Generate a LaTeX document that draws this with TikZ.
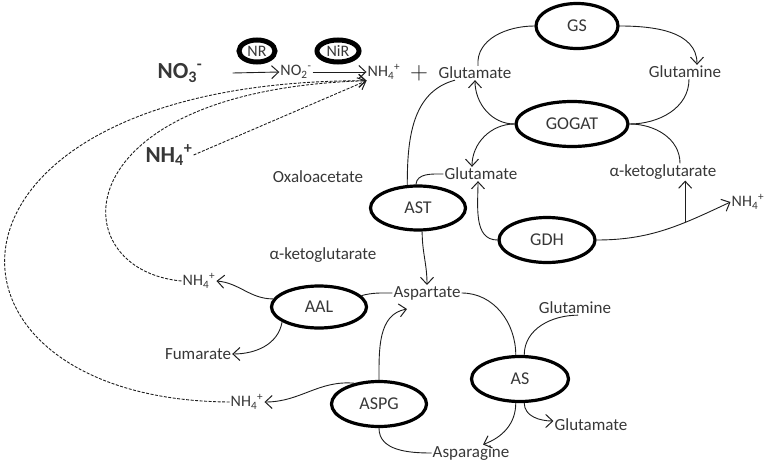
\documentclass[tikz,border=0pt]{standalone}
\usepackage{fontspec}
\setmainfont{Carlito}
\usepackage{tikz}
\usetikzlibrary{arrows.meta, shapes.geometric}
\definecolor{inkgray}{RGB}{55,55,55}
\definecolor{linegray}{RGB}{30,30,30}

\tikzset{
  enzyme/.style={ellipse, draw=black, line width=3.2pt, inner sep=0pt, text=inkgray, font=\fontsize{18}{20}\selectfont},
  smallenzyme/.style={enzyme, line width=5pt, font=\fontsize{16}{18}\selectfont},
  metab/.style={inner sep=1pt, text=inkgray, font=\fontsize{17}{20}\selectfont},
  ion/.style={metab, font=\fontsize{16}{18}\selectfont},
  bigion/.style={metab, font=\fontsize{23}{26}\selectfont\bfseries},
  link/.style={line width=0.9pt, draw=linegray},
  flow/.style={link, -{Straight Barb[length=7pt,width=13pt,line width=1pt]}},
  feed/.style={flow, dash pattern=on 3pt off 1.5pt}
}

\begin{document}
\begin{tikzpicture}[x=1pt, y=-1pt]
        \useasboundingbox (0,0) rectangle (767,465);

        % nitrate uptake
        \node[bigion] (no3) at (180,73) {NO\textsubscript{3}\textsuperscript{-}};
        \node[smallenzyme, minimum width=36pt, minimum height=22pt] (nr) at (257,51) {NR};
        \node[smallenzyme, minimum width=42pt, minimum height=22pt] (nir) at (338,51) {NiR};
        \node[ion] (no2) at (296,72) {NO\textsubscript{2}\textsuperscript{-}};
        \node[ion] (nh4top) at (384,72) {NH\textsubscript{4}\textsuperscript{+}};
        \node[text=linegray, font=\fontsize{30}{30}\selectfont] (plus) at (419,73) {$+$};
        \node[bigion] (nh4bold) at (169,155) {NH\textsubscript{4}\textsuperscript{+}};

        % GS / GOGAT
        \node[metab] (gluTop) at (475,73) {Glutamate};
        \node[enzyme, minimum width=82pt, minimum height=45pt] (gs) at (577,26) {GS};
        \node[metab] (glnTop) at (685,72) {Glutamine};
        \node[enzyme, minimum width=112pt, minimum height=45pt] (gogat) at (572,124) {GOGAT};
        \node[metab] (gluMid) at (481,174) {Glutamate};
        \node[metab] (akgR) at (663,172) {α-ketoglutarate};
        \node[ion] (nh4R) at (748,202) {NH\textsubscript{4}\textsuperscript{+}};
        \node[enzyme, minimum width=96pt, minimum height=45pt] (gdh) at (547,240) {GDH};

        % aspartate side
        \node[metab] (oxa) at (318,177) {Oxaloacetate};
        \node[enzyme, minimum width=95pt, minimum height=44pt] (ast) at (418,208) {AST};
        \node[metab] (akgL) at (323,255) {α-ketoglutarate};
        \node[metab] (asp) at (427,293) {Aspartate};
        \node[enzyme, minimum width=95pt, minimum height=42pt] (aal) at (319,307) {AAL};
        \node[ion] (nh4A) at (199,281) {NH\textsubscript{4}\textsuperscript{+}};
        \node[metab] (fum) at (198,354) {Fumarate};
        \node[metab] (glnLow) at (575,308) {Glutamine};
        \node[enzyme, minimum width=97pt, minimum height=45pt] (as) at (520,379) {AS};
        \node[enzyme, minimum width=95pt, minimum height=45pt] (aspg) at (379,404) {ASPG};
        \node[ion] (nh4B) at (247,402) {NH\textsubscript{4}\textsuperscript{+}};
        \node[metab] (gluLow) at (591,425) {Glutamate};
        \node[metab] (asn) at (471,453) {Asparagine};

        % NR, NiR
        \draw[flow] ([xshift=29pt]no3.east) -- (no2.west);
        \draw[flow] (no2.east) -- (nh4top.west);

        % GS / GOGAT cycle
        \draw[link] ([xshift=3pt]gluTop.north) to[out=95,in=180] (gs.west);
        \draw[flow] (gs.east) to[out=0,in=90] ([xshift=12pt]glnTop.north);
        \draw[link] ([xshift=4pt]glnTop.south) to[out=-90,in=0] (gogat.east);
        \draw[flow] (gogat.west) to[out=180,in=-90] (gluTop.south);
        \draw[flow] (gogat.west) to[out=180,in=90] ([xshift=-9pt]gluMid.north);
        \draw[link] (gogat.east) to[out=0,in=90] ([xshift=17pt]akgR.north);

        % GDH
        \draw[flow] (gdh.west) to[out=180,in=-90] ([xshift=-3pt]gluMid.south);
        \draw[flow] (gdh.east) to[out=0,in=205] coordinate[pos=0.66] (gdhfork) (nh4R.west);
        \draw[flow] (gdhfork) -- (gdhfork |- akgR.south);

        % AST
        \draw[link] ([xshift=-20pt]gluTop.south) to[out=195,in=90] (ast.115);
        \draw[link] (ast.95) to[out=85,in=180] (gluMid.west);
        \draw[flow] (ast.-80) to[out=-90,in=90] (asp.north);

        % AAL
        \draw[link] (aal.15) to[out=15,in=180] (asp.west);
        \draw[flow] (aal.170) to[out=180,in=-5] (nh4A.east);
        \draw[flow] (aal.202) to[out=-100,in=0] (fum.east);

        % ASPG
        \draw[flow] (aspg.north) to[out=90,in=190] ([xshift=-20pt,yshift=-8pt]asp.south);
        \draw[flow] (aspg.140) to[out=175,in=0] (nh4B.east);
        \draw[link] (aspg.south) to[out=-90,in=180] (asn.west);

        % AS
        \draw[link] (asp.east) to[out=0,in=90] (as.100);
        \draw[link] ([xshift=3pt]glnLow.south) to[out=180,in=90] (as.80);
        \draw[flow] (as.-100) to[out=-90,in=20] ([xshift=12pt]asn.north);
        \draw[flow] (as.-80) to[out=-90,in=180] ([yshift=4pt]gluLow.west);

        % NH4+ back to the pool
        \draw[feed] (nh4bold.east) -- (nh4top.south west);
        \draw[feed] (nh4A.west) .. controls (60,270) and (60,90) .. (nh4top.south west);
        \draw[feed] (nh4B.west) .. controls (-90,400) and (-90,80) .. (nh4top.south west);
    \end{tikzpicture}
\end{document}
